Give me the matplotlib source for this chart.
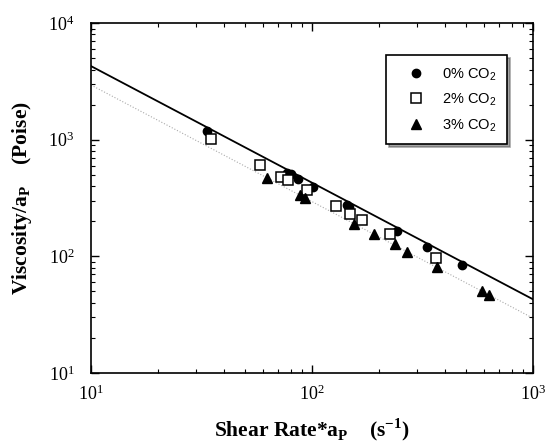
import numpy as np
import matplotlib
matplotlib.use("Agg")
import matplotlib.pyplot as plt

plt.rcParams['mathtext.fontset'] = 'custom'
plt.rcParams['mathtext.rm'] = 'Liberation Serif'
plt.rcParams['mathtext.bf'] = 'Liberation Serif:bold'
plt.rcParams['mathtext.sf'] = 'Liberation Sans'
plt.rcParams['font.family'] = ['Liberation Serif', 'DejaVu Sans']

# Data
shear0 = [33.6, 76.8, 80.1, 86.1, 101.4, 143.5, 147.5, 241.6, 330, 478.6]
visc0 = [1194, 515, 505, 460, 395, 277, 267, 166, 121, 84]

shear2 = [35.0, 58.2, 72.4, 78.2, 95.3, 128, 148.6, 169, 225, 364]
visc2 = [1007, 604, 482, 449, 368, 270, 232, 206, 155, 97.5]

shear3 = [62.4, 88.3, 93.3, 155, 191, 238, 270, 367, 590, 634]
visc3 = [470, 336, 318, 190, 155, 128, 110, 81.7, 50.6, 46.5]

# power-law fit lines (K at shear = 10, exponent)
fit_solid_K, fit_solid_n = 4285, -1.0
fit_dot_K, fit_dot_n = 2950, -1.0

labels = ['0% CO$_{\\mathsf{2}}$', '2% CO$_{\\mathsf{2}}$', '3% CO$_{\\mathsf{2}}$']

fig = plt.figure(figsize=(5.45, 4.46), dpi=100)
ax = fig.add_axes([0.167, 0.1637, 0.811, 0.7843])
ax.set_xscale('log')
ax.set_yscale('log')
ax.set_xlim(10, 1000)
ax.set_ylim(10, 1e4)

xs = np.logspace(1, 3, 50)
ax.plot(xs, fit_solid_K * (xs / 10) ** fit_solid_n, color='black', lw=1.3, zorder=2)
ax.plot(xs, fit_dot_K * (xs / 10) ** fit_dot_n, color='#aaaaaa', lw=0.8, ls=':', zorder=1)

ax.plot(shear0, visc0, 'o', color='black', ms=6, ls='none', label=labels[0], zorder=3)
ax.plot(shear2, visc2, 's', mfc='white', mec='black', mew=1.1, ms=7, ls='none', label=labels[1], zorder=3)
ax.plot(shear3, visc3, '^', color='black', ms=6.5, ls='none', label=labels[2], zorder=3)

ax.tick_params(which='both', direction='in', top=True, right=True, labelsize=13)
ax.tick_params(axis='y', which='major', pad=12)
ax.tick_params(axis='x', which='major', pad=8)
ax.tick_params(which='major', length=6, width=1)
ax.tick_params(which='minor', length=3, width=0.8)
for s in ax.spines.values():
    s.set_linewidth(1.2)

ax.set_xlabel('Shear Rate*a$_{\\mathbf{P}}$    (s$^{\\mathbf{-1}}$)', fontsize=15.5, fontweight='bold', labelpad=9)
ax.set_ylabel('Viscosity/a$_{\\mathbf{P}}$    (Poise)', fontsize=15.5, fontweight='bold', labelpad=10)

leg = ax.legend(loc='upper left', bbox_to_anchor=(0.667, 0.909), borderaxespad=0, frameon=True, fancybox=False,
                shadow=True, borderpad=0.75, labelspacing=0.6, handletextpad=0.5,
                prop={'family': 'Liberation Sans', 'size': 10.5}, handlelength=2.6)
leg.get_frame().set_edgecolor('black')
leg.get_frame().set_linewidth(1.2)

fig.savefig('out.png', dpi=100)
